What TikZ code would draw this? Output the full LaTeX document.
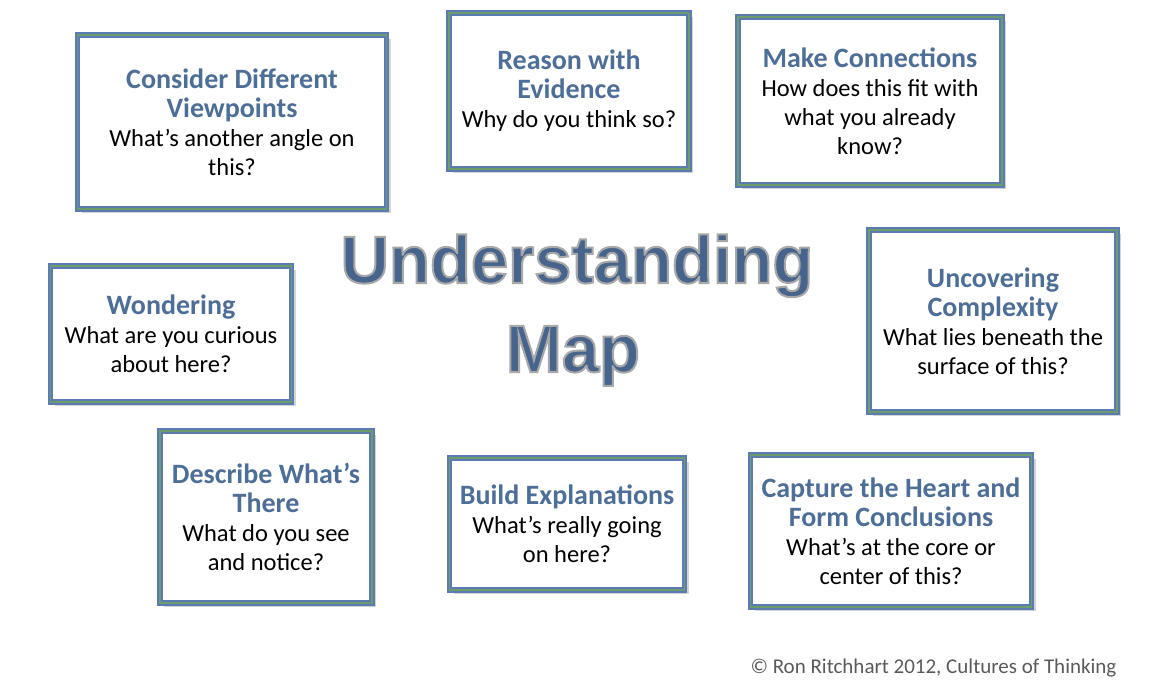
\documentclass[tikz,border=0pt]{standalone}
\usepackage{fontspec}
\setmainfont{Carlito}
\newfontfamily\headfont{Liberation Sans}
\usetikzlibrary{positioning}
\usetikzlibrary{shadows}
\definecolor{frameblue}{HTML}{5A7CB2}
\definecolor{framegreen}{HTML}{6C9B6C}
\definecolor{headblue}{HTML}{4D6E96}
\definecolor{mapblue}{HTML}{46648C}
\definecolor{notegray}{HTML}{5A5A5A}
\newcommand{\cardhead}[1]{{\color{headblue}\bfseries\fontsize{28}{30}\selectfont #1}}
\newcommand{\rimtext}[1]{\special{pdf:literal direct 2 Tr 2 w 0.66 0.66 0.66 RG}#1\special{pdf:literal direct 0 Tr}}

\begin{document}
\begin{tikzpicture}[x=1pt,y=-1pt,
		card/.style={rectangle,draw=frameblue,double=framegreen,line width=1.8pt,double distance=1.6pt,
			fill=white,align=center,inner sep=4pt,font=\fontsize{24.5}{29}\selectfont,
			drop shadow={opacity=0.35,shadow xshift=4pt,shadow yshift=-4pt}},
		bigword/.style={anchor=base,text=mapblue,font=\headfont\bfseries\fontsize{67}{79}\selectfont}]
		\useasboundingbox (0,0) rectangle (1162,685);
		
		\node[card,minimum width=309pt,minimum height=174pt] (viewpoints) at (232,122)
			{\cardhead{Consider Different}\\\cardhead{Viewpoints}\\What’s another angle on\\this?};
		\node[card,minimum width=240pt,minimum height=156pt] (evidence) at (569,91)
			{\cardhead{Reason with}\\\cardhead{Evidence}\\Why do you think so?};
		\node[card,minimum width=264pt,minimum height=168pt] (connections) at (870,101)
			{\cardhead{Make Connections}\\How does this fit with\\what you already\\know?};
		\node[card,minimum width=241pt,minimum height=136pt] (wondering) at (171,334)
			{\cardhead{Wondering}\\What are you curious\\about here?};
		\node[card,minimum width=248pt,minimum height=182pt] (complexity) at (993,321)
			{\cardhead{Uncovering}\\\cardhead{Complexity}\\What lies beneath the\\surface of this?};
		\node[card,minimum width=212pt,minimum height=172pt] (describe) at (266,517)
			{\cardhead{Describe What’s}\\\cardhead{There}\\What do you see\\and notice?};
		\node[card,minimum width=235pt,minimum height=132pt] (explain) at (567,524)
			{\cardhead{Build Explanations}\\What’s really going\\on here?};
		\node[card,minimum width=281pt,minimum height=152pt] (heart) at (891,531)
			{\cardhead{Capture the Heart and}\\\cardhead{Form Conclusions}\\What’s at the core or\\center of this?};
		
		\node[bigword] (title) at (577,283) {\rimtext{Understanding}};
		\node[bigword] (titlemap) at (573,372) {\rimtext{Map}};
		
		\node[anchor=base east,text=notegray,font=\fontsize{21}{25}\selectfont] (credit) at (1120,673)
			{© Ron Ritchhart 2012, Cultures of Thinking};
		\end{tikzpicture}
\end{document}
